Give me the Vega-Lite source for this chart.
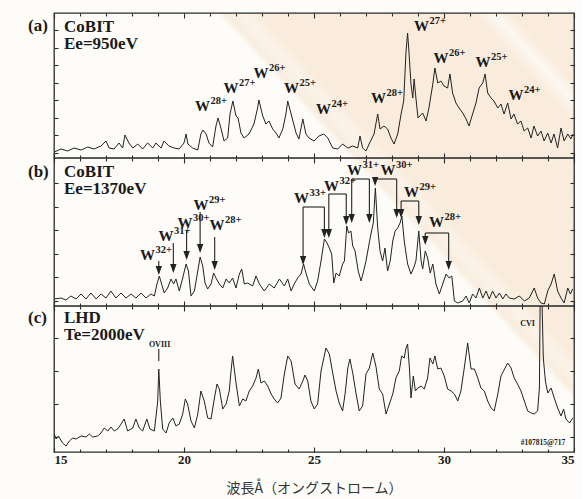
{
"$schema": "https://vega.github.io/schema/vega-lite/v6.json",
"padding": {"left": 27, "top": 11, "right": 6, "bottom": 3},
"bounds": "flush",
"spacing": 0,
"background": "#fdfcf8",
"config": {
  "view": {"stroke": "#2a2a2a", "strokeWidth": 1.3},
  "axis": {"grid": false, "domain": false, "tickColor": "#2a2a2a", "tickWidth": 1.1},
  "text": {"font": "Liberation Serif", "fontWeight": "bold", "color": "#1a1a1a"}
},
"datasets": {
"specA": [{"x":15.01,"y":6},{"x":15.27,"y":9},{"x":15.53,"y":7},{"x":15.77,"y":10},{"x":16.04,"y":8},{"x":16.30,"y":11},{"x":16.54,"y":9},{"x":16.81,"y":12},{"x":17.00,"y":17},{"x":17.12,"y":10},{"x":17.31,"y":9},{"x":17.50,"y":15},{"x":17.64,"y":10},{"x":17.73,"y":23},{"x":17.88,"y":15},{"x":18.03,"y":10},{"x":18.22,"y":14},{"x":18.41,"y":9},{"x":18.60,"y":15},{"x":18.80,"y":10},{"x":18.92,"y":15},{"x":19.12,"y":10},{"x":19.23,"y":17},{"x":19.42,"y":12},{"x":19.62,"y":10},{"x":19.81,"y":9},{"x":20.00,"y":15},{"x":20.08,"y":24},{"x":20.15,"y":14},{"x":20.33,"y":10},{"x":20.53,"y":8},{"x":20.65,"y":24},{"x":20.73,"y":28},{"x":20.85,"y":24},{"x":20.96,"y":15},{"x":21.10,"y":11},{"x":21.23,"y":32},{"x":21.31,"y":40},{"x":21.42,"y":30},{"x":21.54,"y":17},{"x":21.68,"y":20},{"x":21.77,"y":44},{"x":21.88,"y":57},{"x":22.00,"y":42},{"x":22.08,"y":40},{"x":22.19,"y":25},{"x":22.31,"y":20},{"x":22.50,"y":24},{"x":22.69,"y":34},{"x":22.83,"y":50},{"x":22.88,"y":58},{"x":23.03,"y":42},{"x":23.15,"y":34},{"x":23.27,"y":37},{"x":23.41,"y":29},{"x":23.54,"y":25},{"x":23.65,"y":20},{"x":23.80,"y":29},{"x":23.92,"y":44},{"x":23.99,"y":57},{"x":24.12,"y":44},{"x":24.31,"y":25},{"x":24.42,"y":19},{"x":24.57,"y":39},{"x":24.69,"y":24},{"x":24.81,"y":20},{"x":25.00,"y":17},{"x":25.19,"y":22},{"x":25.38,"y":24},{"x":25.53,"y":20},{"x":25.72,"y":10},{"x":25.91,"y":9},{"x":26.10,"y":14},{"x":26.30,"y":10},{"x":26.49,"y":12},{"x":26.68,"y":10},{"x":26.77,"y":22},{"x":26.87,"y":10},{"x":27.00,"y":7},{"x":27.12,"y":14},{"x":27.31,"y":24},{"x":27.45,"y":44},{"x":27.54,"y":29},{"x":27.69,"y":32},{"x":27.83,"y":29},{"x":27.96,"y":20},{"x":28.08,"y":14},{"x":28.22,"y":24},{"x":28.35,"y":44},{"x":28.45,"y":57},{"x":28.54,"y":107},{"x":28.60,"y":125},{"x":28.65,"y":107},{"x":28.73,"y":74},{"x":28.80,"y":60},{"x":28.85,"y":79},{"x":28.92,"y":60},{"x":29.00,"y":40},{"x":29.18,"y":45},{"x":29.31,"y":37},{"x":29.42,"y":50},{"x":29.57,"y":74},{"x":29.65,"y":90},{"x":29.76,"y":75},{"x":29.88,"y":77},{"x":30.00,"y":72},{"x":30.14,"y":70},{"x":30.23,"y":84},{"x":30.33,"y":65},{"x":30.46,"y":55},{"x":30.58,"y":50},{"x":30.72,"y":45},{"x":30.85,"y":39},{"x":30.96,"y":32},{"x":31.10,"y":44},{"x":31.23,"y":55},{"x":31.35,"y":70},{"x":31.49,"y":75},{"x":31.58,"y":84},{"x":31.68,"y":65},{"x":31.81,"y":60},{"x":31.92,"y":57},{"x":32.07,"y":50},{"x":32.19,"y":54},{"x":32.31,"y":44},{"x":32.45,"y":55},{"x":32.58,"y":39},{"x":32.69,"y":44},{"x":32.83,"y":34},{"x":32.96,"y":37},{"x":33.08,"y":27},{"x":33.22,"y":30},{"x":33.35,"y":20},{"x":33.46,"y":32},{"x":33.60,"y":22},{"x":33.73,"y":27},{"x":33.85,"y":17},{"x":33.99,"y":25},{"x":34.12,"y":15},{"x":34.23,"y":24},{"x":34.37,"y":10},{"x":34.50,"y":30},{"x":34.62,"y":17},{"x":34.76,"y":24},{"x":34.88,"y":19},{"x":34.96,"y":24}],
"specB": [{"x":15.01,"y":7},{"x":15.27,"y":8},{"x":15.46,"y":6},{"x":15.65,"y":10},{"x":15.85,"y":7},{"x":16.04,"y":12},{"x":16.23,"y":7},{"x":16.42,"y":13},{"x":16.62,"y":7},{"x":16.81,"y":12},{"x":17.00,"y":8},{"x":17.19,"y":15},{"x":17.38,"y":8},{"x":17.58,"y":13},{"x":17.77,"y":8},{"x":17.96,"y":12},{"x":18.15,"y":8},{"x":18.35,"y":13},{"x":18.54,"y":8},{"x":18.73,"y":12},{"x":18.86,"y":10},{"x":18.96,"y":22},{"x":19.05,"y":30},{"x":19.14,"y":22},{"x":19.24,"y":13},{"x":19.37,"y":18},{"x":19.50,"y":27},{"x":19.60,"y":22},{"x":19.69,"y":27},{"x":19.82,"y":15},{"x":19.95,"y":28},{"x":20.08,"y":42},{"x":20.17,"y":35},{"x":20.27,"y":10},{"x":20.40,"y":15},{"x":20.53,"y":35},{"x":20.62,"y":49},{"x":20.72,"y":40},{"x":20.81,"y":23},{"x":20.91,"y":17},{"x":21.04,"y":22},{"x":21.14,"y":33},{"x":21.23,"y":28},{"x":21.36,"y":22},{"x":21.49,"y":18},{"x":21.62,"y":27},{"x":21.74,"y":23},{"x":21.87,"y":28},{"x":22.00,"y":18},{"x":22.13,"y":32},{"x":22.22,"y":37},{"x":22.32,"y":22},{"x":22.45,"y":23},{"x":22.64,"y":20},{"x":22.77,"y":30},{"x":22.90,"y":22},{"x":23.09,"y":15},{"x":23.28,"y":22},{"x":23.47,"y":18},{"x":23.67,"y":27},{"x":23.86,"y":20},{"x":23.99,"y":27},{"x":24.12,"y":15},{"x":24.24,"y":22},{"x":24.37,"y":28},{"x":24.50,"y":32},{"x":24.60,"y":42},{"x":24.69,"y":33},{"x":24.82,"y":22},{"x":25.01,"y":15},{"x":25.14,"y":25},{"x":25.27,"y":45},{"x":25.40,"y":67},{"x":25.50,"y":63},{"x":25.59,"y":58},{"x":25.68,"y":52},{"x":25.76,"y":23},{"x":25.85,"y":33},{"x":25.97,"y":30},{"x":26.10,"y":42},{"x":26.17,"y":45},{"x":26.26,"y":80},{"x":26.33,"y":73},{"x":26.42,"y":75},{"x":26.49,"y":60},{"x":26.58,"y":55},{"x":26.70,"y":35},{"x":26.81,"y":25},{"x":26.91,"y":35},{"x":27.00,"y":45},{"x":27.09,"y":58},{"x":27.19,"y":72},{"x":27.28,"y":83},{"x":27.36,"y":118},{"x":27.45,"y":78},{"x":27.54,"y":55},{"x":27.64,"y":45},{"x":27.73,"y":58},{"x":27.83,"y":35},{"x":27.93,"y":45},{"x":28.03,"y":65},{"x":28.12,"y":75},{"x":28.22,"y":78},{"x":28.31,"y":83},{"x":28.38,"y":90},{"x":28.47,"y":65},{"x":28.60,"y":42},{"x":28.73,"y":32},{"x":28.83,"y":38},{"x":28.92,"y":45},{"x":29.03,"y":75},{"x":29.12,"y":45},{"x":29.18,"y":37},{"x":29.28,"y":55},{"x":29.37,"y":48},{"x":29.47,"y":33},{"x":29.57,"y":42},{"x":29.69,"y":22},{"x":29.82,"y":12},{"x":29.95,"y":22},{"x":30.08,"y":32},{"x":30.20,"y":28},{"x":30.30,"y":30},{"x":30.40,"y":5},{"x":30.53,"y":3},{"x":30.72,"y":5},{"x":30.85,"y":10},{"x":30.97,"y":3},{"x":31.10,"y":12},{"x":31.23,"y":8},{"x":31.36,"y":18},{"x":31.49,"y":8},{"x":31.62,"y":15},{"x":31.74,"y":7},{"x":31.87,"y":15},{"x":32.00,"y":8},{"x":32.13,"y":13},{"x":32.26,"y":7},{"x":32.38,"y":12},{"x":32.51,"y":8},{"x":32.70,"y":7},{"x":32.90,"y":10},{"x":33.09,"y":5},{"x":33.28,"y":8},{"x":33.47,"y":18},{"x":33.60,"y":8},{"x":33.73,"y":3},{"x":33.86,"y":2},{"x":33.99,"y":15},{"x":34.12,"y":22},{"x":34.24,"y":32},{"x":34.37,"y":15},{"x":34.50,"y":8},{"x":34.62,"y":3},{"x":34.76,"y":18},{"x":34.86,"y":12},{"x":34.95,"y":17}],
"specC": [{"x":15.01,"y":18},{"x":15.08,"y":13},{"x":15.17,"y":16},{"x":15.33,"y":9},{"x":15.46,"y":6},{"x":15.59,"y":11},{"x":15.72,"y":14},{"x":15.85,"y":13},{"x":16.04,"y":16},{"x":16.23,"y":15},{"x":16.36,"y":18},{"x":16.49,"y":15},{"x":16.68,"y":16},{"x":16.81,"y":19},{"x":16.93,"y":24},{"x":17.07,"y":21},{"x":17.19,"y":25},{"x":17.32,"y":21},{"x":17.45,"y":23},{"x":17.58,"y":28},{"x":17.70,"y":33},{"x":17.83,"y":21},{"x":18.03,"y":24},{"x":18.15,"y":33},{"x":18.28,"y":24},{"x":18.41,"y":21},{"x":18.57,"y":33},{"x":18.69,"y":23},{"x":18.86,"y":21},{"x":18.99,"y":51},{"x":19.03,"y":83},{"x":19.09,"y":51},{"x":19.18,"y":23},{"x":19.31,"y":19},{"x":19.43,"y":29},{"x":19.57,"y":34},{"x":19.69,"y":26},{"x":19.82,"y":28},{"x":19.95,"y":38},{"x":20.05,"y":53},{"x":20.14,"y":48},{"x":20.27,"y":31},{"x":20.40,"y":24},{"x":20.53,"y":38},{"x":20.65,"y":61},{"x":20.78,"y":51},{"x":20.91,"y":34},{"x":21.04,"y":33},{"x":21.17,"y":54},{"x":21.27,"y":68},{"x":21.36,"y":63},{"x":21.49,"y":43},{"x":21.62,"y":48},{"x":21.74,"y":61},{"x":21.81,"y":81},{"x":21.87,"y":96},{"x":22.00,"y":69},{"x":22.13,"y":46},{"x":22.26,"y":53},{"x":22.38,"y":51},{"x":22.51,"y":61},{"x":22.64,"y":66},{"x":22.77,"y":74},{"x":22.86,"y":83},{"x":22.96,"y":69},{"x":23.09,"y":71},{"x":23.22,"y":66},{"x":23.35,"y":58},{"x":23.47,"y":53},{"x":23.60,"y":49},{"x":23.73,"y":54},{"x":23.86,"y":78},{"x":23.99,"y":96},{"x":24.12,"y":91},{"x":24.27,"y":68},{"x":24.43,"y":63},{"x":24.57,"y":71},{"x":24.65,"y":77},{"x":24.76,"y":71},{"x":24.88,"y":51},{"x":25.01,"y":43},{"x":25.14,"y":48},{"x":25.27,"y":81},{"x":25.46,"y":104},{"x":25.59,"y":98},{"x":25.72,"y":79},{"x":25.85,"y":61},{"x":25.97,"y":49},{"x":26.10,"y":41},{"x":26.20,"y":59},{"x":26.30,"y":84},{"x":26.38,"y":93},{"x":26.49,"y":79},{"x":26.62,"y":58},{"x":26.74,"y":41},{"x":26.87,"y":46},{"x":27.00,"y":78},{"x":27.13,"y":84},{"x":27.26,"y":99},{"x":27.38,"y":86},{"x":27.51,"y":63},{"x":27.64,"y":58},{"x":27.77,"y":38},{"x":27.90,"y":48},{"x":28.03,"y":58},{"x":28.15,"y":74},{"x":28.28,"y":81},{"x":28.37,"y":96},{"x":28.47,"y":94},{"x":28.54,"y":104},{"x":28.60,"y":108},{"x":28.67,"y":84},{"x":28.73,"y":54},{"x":28.82,"y":76},{"x":28.90,"y":61},{"x":28.99,"y":64},{"x":29.12,"y":66},{"x":29.24,"y":63},{"x":29.37,"y":74},{"x":29.46,"y":94},{"x":29.57,"y":88},{"x":29.65,"y":96},{"x":29.76,"y":83},{"x":29.88,"y":84},{"x":30.01,"y":76},{"x":30.14,"y":63},{"x":30.27,"y":61},{"x":30.40,"y":58},{"x":30.53,"y":51},{"x":30.65,"y":61},{"x":30.78,"y":84},{"x":30.91,"y":109},{"x":31.04,"y":83},{"x":31.17,"y":83},{"x":31.30,"y":74},{"x":31.42,"y":64},{"x":31.55,"y":61},{"x":31.68,"y":51},{"x":31.81,"y":44},{"x":31.93,"y":41},{"x":32.07,"y":58},{"x":32.19,"y":76},{"x":32.35,"y":84},{"x":32.45,"y":89},{"x":32.58,"y":84},{"x":32.70,"y":74},{"x":32.83,"y":68},{"x":32.96,"y":61},{"x":33.09,"y":51},{"x":33.22,"y":41},{"x":33.35,"y":39},{"x":33.47,"y":38},{"x":33.60,"y":41},{"x":33.67,"y":64},{"x":33.70,"y":160},{"x":33.76,"y":160},{"x":33.82,"y":94},{"x":33.90,"y":71},{"x":33.99,"y":59},{"x":34.12,"y":64},{"x":34.24,"y":54},{"x":34.37,"y":44},{"x":34.50,"y":36},{"x":34.60,"y":43},{"x":34.69,"y":33},{"x":34.83,"y":29},{"x":34.95,"y":34}],
"labA": [{"x":20.71,"y":52,"sup":"28+"},{"x":21.81,"y":70,"sup":"27+"},{"x":22.96,"y":85,"sup":"26+"},{"x":24.13,"y":70,"sup":"25+"},{"x":25.37,"y":49,"sup":"24+"},{"x":27.48,"y":60,"sup":"28+"},{"x":29.13,"y":132,"sup":"27+"},{"x":29.88,"y":100,"sup":"26+"},{"x":31.5,"y":96,"sup":"25+"},{"x":32.77,"y":63,"sup":"24+"}],
"labB": [{"x":18.60,"y":51,"sup":"32+"},{"x":19.31,"y":70,"sup":"31+"},{"x":20.04,"y":83,"sup":"30+"},{"x":20.65,"y":101,"sup":"29+"},{"x":21.27,"y":81,"sup":"28+"},{"x":24.52,"y":108,"sup":"33+"},{"x":25.67,"y":120,"sup":"32+"},{"x":26.56,"y":136,"sup":"31+"},{"x":27.85,"y":136,"sup":"30+"},{"x":28.75,"y":114,"sup":"29+"},{"x":29.71,"y":84,"sup":"28+"}],
"rulesB": [{"x":19.03,"x2":19.03,"y":45,"y2":33},{"x":19.59,"x2":19.59,"y":63,"y2":35},{"x":20.10,"x2":20.10,"y":76,"y2":48},{"x":20.62,"x2":20.62,"y":94,"y2":55},{"x":21.18,"x2":21.18,"y":69,"y2":38},
 {"x":24.58,"x2":24.58,"y":99,"y2":43},{"x":24.58,"x2":25.40,"y":99,"y2":99},{"x":25.40,"x2":25.40,"y":99,"y2":70},
 {"x":25.57,"x2":25.57,"y":112,"y2":70},{"x":25.57,"x2":26.24,"y":112,"y2":112},{"x":26.24,"x2":26.24,"y":112,"y2":83},
 {"x":26.45,"x2":26.45,"y":127,"y2":85},{"x":26.45,"x2":27.13,"y":127,"y2":127},{"x":27.13,"x2":27.13,"y":127,"y2":85},
 {"x":27.35,"x2":27.35,"y":127,"y2":122},{"x":27.35,"x2":28.18,"y":127,"y2":127},{"x":28.18,"x2":28.18,"y":127,"y2":90},
 {"x":28.35,"x2":28.35,"y":105,"y2":90},{"x":28.35,"x2":29.03,"y":105,"y2":105},{"x":29.03,"x2":29.03,"y":105,"y2":83},
 {"x":29.28,"x2":29.28,"y":73,"y2":63},{"x":29.28,"x2":30.18,"y":73,"y2":73},{"x":30.18,"x2":30.18,"y":73,"y2":38}],
"headsB": [{"x":19.03,"y":33},{"x":19.59,"y":35},{"x":20.10,"y":48},{"x":20.62,"y":55},{"x":21.18,"y":38},{"x":24.58,"y":43},{"x":25.40,"y":70},{"x":25.57,"y":70},{"x":26.24,"y":83},{"x":26.45,"y":85},{"x":27.13,"y":85},{"x":27.35,"y":122},{"x":28.18,"y":90},{"x":28.35,"y":90},{"x":29.03,"y":83},{"x":29.28,"y":63},{"x":30.18,"y":38}],
"titA": [{"x":14.0,"y":127,"t":"(a)"},{"x":15.385,"y":126.5,"t":"CoBIT"},{"x":15.385,"y":109,"t":"Ee=950eV"}],
"titB": [{"x":14.0,"y":129,"t":"(b)"},{"x":15.385,"y":129.3,"t":"CoBIT"},{"x":15.385,"y":112,"t":"Ee=1370eV"}],
"titC": [{"x":14.0,"y":129,"t":"(c)"},{"x":15.385,"y":129.3,"t":"LHD"},{"x":15.385,"y":112,"t":"Te=2000eV"}],
"notesC": [{"x":18.65,"y":107,"t":"OVIII","s":8},{"x":32.93,"y":128,"t":"CVI","s":8},{"x":32.95,"y":9,"t":"#107815@717","s":7.5}],
"markC": [{"x":19.03,"y":103,"y2":91}]
},
"vconcat": [
{
 "width": 520, "height": 145,
 "view": {"fill": {"gradient": "linear", "x1": 0.3897, "y1": 0.5, "x2": 1.175, "y2": 0.298, "stops": [{"offset": 0, "color": "#fdfcf8"}, {"offset": 0.06, "color": "#fdfcf8"}, {"offset": 0.08, "color": "#f9eddf"}, {"offset": 0.12, "color": "#fbf3e9"}, {"offset": 0.16, "color": "#f9ecdc"}, {"offset": 0.65, "color": "#f9ecdc"}, {"offset": 0.697, "color": "#fcf8f1"}, {"offset": 0.735, "color": "#f9ecdc"}, {"offset": 1, "color": "#f9ecdc"}]}},
 "layer": [
  {"data": {"name": "specA"}, "mark": {"type": "line", "color": "#222", "strokeWidth": 1, "clip": true},
   "encoding": {
    "x": {"field": "x", "type": "quantitative", "scale": {"domain": [15, 35], "nice": false, "zero": false},
      "axis": {"orient": "bottom", "title": null, "labels": false, "values": [15,16,17,18,19,20,21,22,23,24,25,26,27,28,29,30,31,32,33,34,35], "tickSize": {"condition": {"test": "datum.value % 5 === 0", "value": -5}, "value": -3}}},
    "y": {"field": "y", "type": "quantitative", "scale": {"domain": [0, 145], "nice": false, "zero": false},
      "axis": {"orient": "left", "title": null, "labels": false, "values": [5.5,23,40.5,58,75.5,93,110.5,128], "tickSize": -4}}
   }},
  {"data": {"name": "labA"}, "mark": {"type": "text", "fontSize": 15, "align": "center", "baseline": "middle"},
   "encoding": {
    "x": {"field": "x", "type": "quantitative", "axis": {"orient": "top", "title": null, "labels": false, "values": [15,16,17,18,19,20,21,22,23,24,25,26,27,28,29,30,31,32,33,34,35], "tickSize": {"condition": {"test": "datum.value % 5 === 0", "value": -5}, "value": -3}}},
    "y": {"field": "y", "type": "quantitative", "axis": {"orient": "right", "title": null, "labels": false, "values": [5.5,23,40.5,58,75.5,93,110.5,128], "tickSize": -4}},
    "text": {"value": "W"}
   }},
  {"data": {"name": "labA"}, "mark": {"type": "text", "fontSize": 10.5, "align": "left", "baseline": "middle", "dx": 8, "dy": -5},
   "encoding": {
    "x": {"field": "x", "type": "quantitative", "axis": null},
    "y": {"field": "y", "type": "quantitative", "axis": null},
    "text": {"field": "sup"}
   }},
  {"data": {"name": "titA"}, "mark": {"type": "text", "fontSize": 17, "align": "left", "baseline": "alphabetic"},
   "encoding": {
    "x": {"field": "x", "type": "quantitative", "axis": null},
    "y": {"field": "y", "type": "quantitative", "axis": null},
    "text": {"field": "t"}
   }}
 ],
 "resolve": {"axis": {"x": "independent", "y": "independent"}}
},
{
 "width": 520, "height": 148,
 "view": {"fill": {"gradient": "linear", "x1": 0.6495, "y1": 0.5, "x2": 1.4328, "y2": 0.2944, "stops": [{"offset": 0, "color": "#fdfcf8"}, {"offset": 0.06, "color": "#fdfcf8"}, {"offset": 0.08, "color": "#f9eddf"}, {"offset": 0.12, "color": "#fbf3e9"}, {"offset": 0.16, "color": "#f9ecdc"}, {"offset": 0.65, "color": "#f9ecdc"}, {"offset": 0.697, "color": "#fcf8f1"}, {"offset": 0.735, "color": "#f9ecdc"}, {"offset": 1, "color": "#f9ecdc"}]}},
 "layer": [
  {"data": {"name": "specB"}, "mark": {"type": "line", "color": "#222", "strokeWidth": 1, "clip": true},
   "encoding": {
    "x": {"field": "x", "type": "quantitative", "scale": {"domain": [15, 35], "nice": false, "zero": false},
      "axis": {"orient": "bottom", "title": null, "labels": false, "values": [15,16,17,18,19,20,21,22,23,24,25,26,27,28,29,30,31,32,33,34,35], "tickSize": {"condition": {"test": "datum.value % 5 === 0", "value": -5}, "value": -3}}},
    "y": {"field": "y", "type": "quantitative", "scale": {"domain": [0, 148], "nice": false, "zero": false},
      "axis": {"orient": "left", "title": null, "labels": false, "values": [5.5,29,52.5,76,99.5,123], "tickSize": -4}}
   }},
  {"data": {"name": "rulesB"}, "mark": {"type": "rule", "color": "#222", "strokeWidth": 1.1},
   "encoding": {
    "x": {"field": "x", "type": "quantitative", "axis": null},
    "x2": {"field": "x2"},
    "y": {"field": "y", "type": "quantitative", "axis": null},
    "y2": {"field": "y2"}
   }},
  {"data": {"name": "headsB"}, "mark": {"type": "point", "shape": "M0,0.3L-0.45,-1L0.45,-1Z", "filled": true, "color": "#222", "opacity": 1, "size": 200},
   "encoding": {
    "x": {"field": "x", "type": "quantitative", "axis": null},
    "y": {"field": "y", "type": "quantitative", "axis": null}
   }},
  {"data": {"name": "labB"}, "mark": {"type": "text", "fontSize": 15, "align": "center", "baseline": "middle"},
   "encoding": {
    "x": {"field": "x", "type": "quantitative", "axis": {"orient": "top", "title": null, "labels": false, "values": [15,16,17,18,19,20,21,22,23,24,25,26,27,28,29,30,31,32,33,34,35], "tickSize": {"condition": {"test": "datum.value % 5 === 0", "value": -5}, "value": -3}}},
    "y": {"field": "y", "type": "quantitative", "axis": {"orient": "right", "title": null, "labels": false, "values": [5.5,29,52.5,76,99.5,123], "tickSize": -4}},
    "text": {"value": "W"}
   }},
  {"data": {"name": "labB"}, "mark": {"type": "text", "fontSize": 10.5, "align": "left", "baseline": "middle", "dx": 8, "dy": -5},
   "encoding": {
    "x": {"field": "x", "type": "quantitative", "axis": null},
    "y": {"field": "y", "type": "quantitative", "axis": null},
    "text": {"field": "sup"}
   }},
  {"data": {"name": "titB"}, "mark": {"type": "text", "fontSize": 17, "align": "left", "baseline": "alphabetic"},
   "encoding": {
    "x": {"field": "x", "type": "quantitative", "axis": null},
    "y": {"field": "y", "type": "quantitative", "axis": null},
    "text": {"field": "t"}
   }}
 ],
 "resolve": {"axis": {"x": "independent", "y": "independent"}}
},
{
 "width": 520, "height": 146,
 "view": {"fill": {"gradient": "linear", "x1": 0.9105, "y1": 0.5, "x2": 1.6951, "y2": 0.2968, "stops": [{"offset": 0, "color": "#fdfcf8"}, {"offset": 0.06, "color": "#fdfcf8"}, {"offset": 0.08, "color": "#f9eddf"}, {"offset": 0.12, "color": "#fbf3e9"}, {"offset": 0.16, "color": "#f9ecdc"}, {"offset": 0.65, "color": "#f9ecdc"}, {"offset": 0.697, "color": "#fcf8f1"}, {"offset": 0.735, "color": "#f9ecdc"}, {"offset": 1, "color": "#f9ecdc"}]}},
 "layer": [
  {"data": {"name": "specC"}, "mark": {"type": "line", "color": "#222", "strokeWidth": 1, "clip": true},
   "encoding": {
    "x": {"field": "x", "type": "quantitative", "scale": {"domain": [15, 35], "nice": false, "zero": false},
      "axis": {"orient": "bottom", "title": "波長Å（オングストローム）", "titleFont": "Noto Sans CJK JP", "titleFontWeight": "normal", "titleFontSize": 14, "titleColor": "#333", "titlePadding": 15,
        "labels": true, "labelExpr": "datum.value % 5 === 0 ? datum.label : ''", "labelFont": "Liberation Serif", "labelFontWeight": "bold", "labelFontSize": 13, "labelColor": "#1a1a1a", "labelPadding": 6,
        "values": [15,16,17,18,19,20,21,22,23,24,25,26,27,28,29,30,31,32,33,34,35], "tickSize": {"condition": {"test": "datum.value % 5 === 0", "value": -5}, "value": -3}}},
    "y": {"field": "y", "type": "quantitative", "scale": {"domain": [0, 146], "nice": false, "zero": false},
      "axis": {"orient": "left", "title": null, "labels": false, "values": [15,48,81,114], "tickSize": -4}}
   }},
  {"data": {"name": "markC"}, "mark": {"type": "rule", "color": "#222", "strokeWidth": 1.1},
   "encoding": {
    "x": {"field": "x", "type": "quantitative", "axis": null},
    "y": {"field": "y", "type": "quantitative", "axis": null},
    "y2": {"field": "y2"}
   }},
  {"data": {"name": "notesC"}, "mark": {"type": "text", "align": "left", "baseline": "middle"},
   "encoding": {
    "x": {"field": "x", "type": "quantitative", "axis": {"orient": "top", "title": null, "labels": false, "values": [15,16,17,18,19,20,21,22,23,24,25,26,27,28,29,30,31,32,33,34,35], "tickSize": {"condition": {"test": "datum.value % 5 === 0", "value": -5}, "value": -3}}},
    "y": {"field": "y", "type": "quantitative", "axis": {"orient": "right", "title": null, "labels": false, "values": [15,48,81,114], "tickSize": -4}},
    "text": {"field": "t"},
    "size": {"field": "s", "type": "quantitative", "scale": null}
   }},
  {"data": {"name": "titC"}, "mark": {"type": "text", "fontSize": 17, "align": "left", "baseline": "alphabetic"},
   "encoding": {
    "x": {"field": "x", "type": "quantitative", "axis": null},
    "y": {"field": "y", "type": "quantitative", "axis": null},
    "text": {"field": "t"}
   }}
 ],
 "resolve": {"axis": {"x": "independent", "y": "independent"}}
}
]
}
